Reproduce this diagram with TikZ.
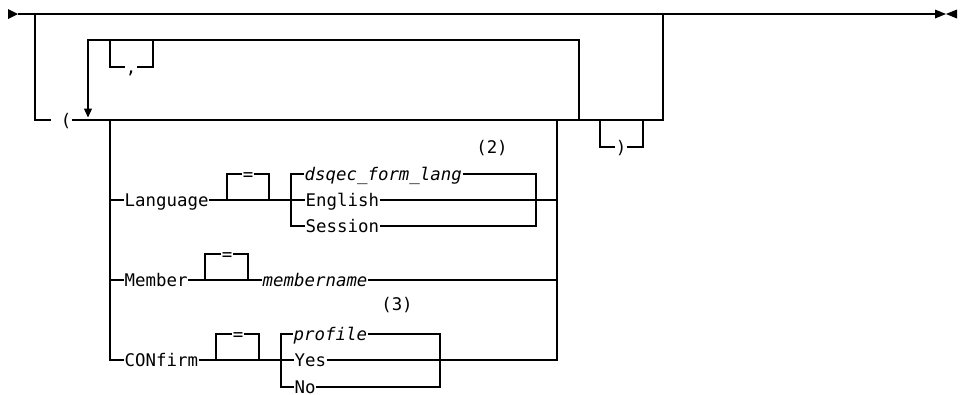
\documentclass[tikz,border=0pt]{standalone}
\usepackage{fontspec}
\setmonofont{DejaVu Sans Mono}
\usepackage{tikz}
\usetikzlibrary{arrows.meta, calc}
\tikzset{
    >={Triangle[length=9pt, width=8pt]},
    rail/.style={line width=1.3pt},
    word/.style={font=\ttfamily\fontsize{17.4}{20}\selectfont, inner sep=0.5pt, text height=13pt, text depth=0pt},
    keyword/.style={word, anchor=west},
    varword/.style={keyword, font=\ttfamily\itshape\fontsize{17.4}{20}\selectfont},
    footnote/.style={word},
    tip/.style={fill=black},
}
\begin{document}
\begin{tikzpicture}[x=1pt, y=-1pt]
        \useasboundingbox (0,0) rectangle (966,394);
        \coordinate (start) at (18,14);
        \coordinate (stop) at (935,14);
        \fill[tip] (8,9) -- (start) -- (8,19) -- cycle;
        \fill[tip] (stop) -- (946,14) -- (935,9.5) -- (935,18.5) -- (946,14) -- (957,9.5) -- (957,18.5) -- (946,14) -- cycle;
        \draw[rail] (start) -- (stop);
        \node[word] (lparen) at (66,120) {(};
        \node[word] (comma) at (131,67) {,};
        \node[word] (rparen) at (621,147) {)};
        \node[keyword] (language) at (124,200) {Language};
        \node[word] (eqL) at (248,174) {=};
        \node[varword] (dsqec) at (304,174) {dsqec\_form\_lang};
        \node[keyword] (english) at (305,200) {English};
        \node[keyword] (session) at (305,226) {Session};
        \node[footnote] (noteA) at (492,147) {(2)};
        \node[keyword] (member) at (124,280) {Member};
        \node[word] (eqM) at (227,254) {=};
        \node[varword] (membername) at (262,280) {membername};
        \node[keyword] (confirm) at (124,360) {CONfirm};
        \node[word] (eqC) at (238,334) {=};
        \node[varword] (profile) at (293,334) {profile};
        \node[keyword] (yes) at (294,360) {Yes};
        \node[keyword] (no) at (294,387) {No};
        \node[footnote] (noteB) at (397,304) {(3)};
        % outer loop
        \coordinate (oL) at (35,14);
        \coordinate (oR) at (663,14);
        \draw[rail, shorten >=9pt] (oL) |- (lparen.west);
        \draw[rail] (lparen.east) -| (oR);
        % repeat loop with separator
        \coordinate (repL) at (88,120);
        \coordinate (repR) at (579,120);
        \coordinate (repTop) at (88,40);
        \draw[rail, ->, shorten >=2.5pt] (repR) |- (repTop) -- (repL);
        \coordinate (cL) at (110,40);
        \coordinate (cR) at (153,40);
        \draw[rail] (cL) |- (comma.west);
        \draw[rail] (comma.east) -| (cR);
        \coordinate (pL) at (600,120);
        \coordinate (pR) at (643,120);
        \draw[rail] (pL) |- (rparen.west);
        \draw[rail] (rparen.east) -| (pR);
        % choices
        \coordinate (chL) at (110,120);
        \coordinate (chR) at (557,120);
        \draw[rail] (chL) |- (confirm.west);
        \draw[rail] (chL |- language) -- (language.west);
        \draw[rail] (chL |- member) -- (member.west);
        \draw[rail] (yes.east) -| (chR);
        \draw[rail] (english.east) -- (english -| chR);
        \draw[rail] (membername.east) -- (membername -| chR);
        % Language
        \coordinate (eqLa) at (227,200);
        \coordinate (eqLb) at (269,200);
        \coordinate (choiceL) at (291,200);
        \coordinate (choiceLR) at (536,200);
        \draw[rail] (language.east) -- (english.west);
        \draw[rail] (eqLa) |- (eqL.west);
        \draw[rail] (eqL.east) -| (eqLb);
        \draw[rail] (dsqec.west) -| (choiceL) |- (session.west);
        \draw[rail] (dsqec.east) -| (choiceLR) |- (session.east);
        % Member
        \coordinate (eqMa) at (205,280);
        \coordinate (eqMb) at (248,280);
        \draw[rail] (member.east) -- (membername.west);
        \draw[rail] (eqMa) |- (eqM.west);
        \draw[rail] (eqM.east) -| (eqMb);
        % CONfirm
        \coordinate (eqCa) at (216,360);
        \coordinate (eqCb) at (259,360);
        \coordinate (choiceC) at (281,360);
        \coordinate (choiceCR) at (440,360);
        \draw[rail] (confirm.east) -- (yes.west);
        \draw[rail] (eqCa) |- (eqC.west);
        \draw[rail] (eqC.east) -| (eqCb);
        \draw[rail] (profile.west) -| (choiceC) |- (no.west);
        \draw[rail] (profile.east) -| (choiceCR) |- (no.east);
    \end{tikzpicture}
\end{document}
